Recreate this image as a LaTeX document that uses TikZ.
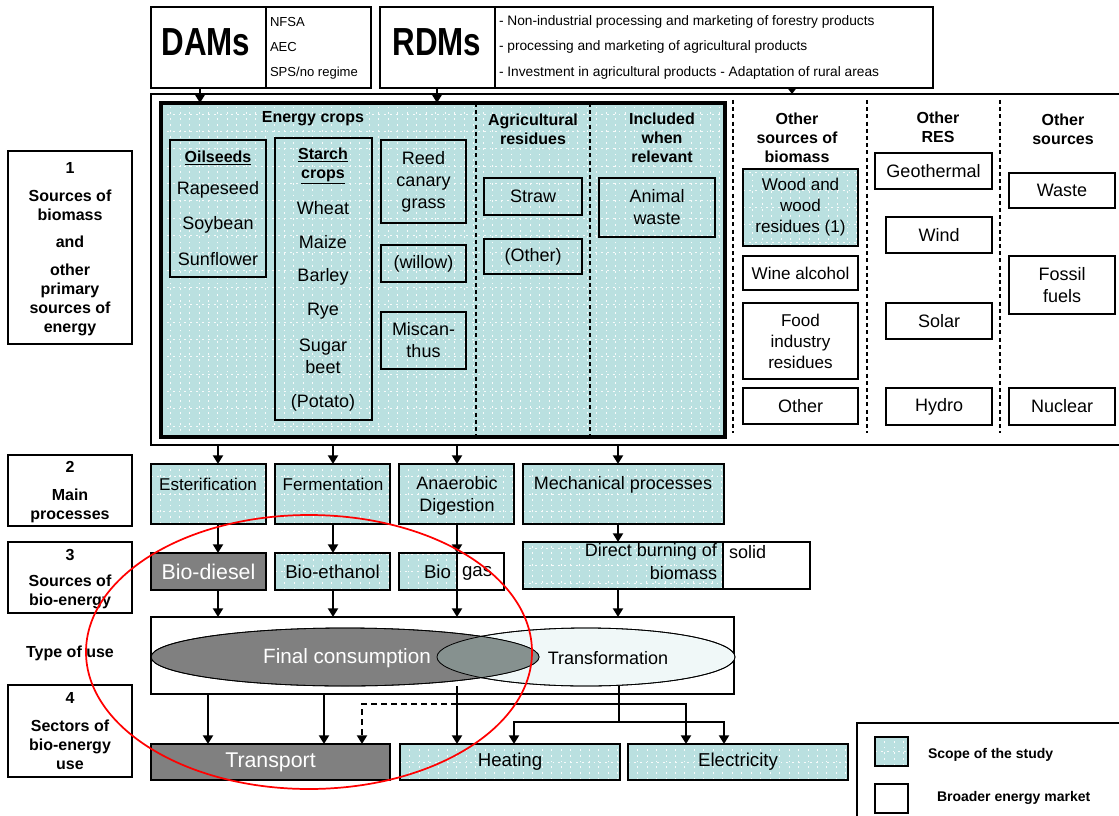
\documentclass[tikz,border=0pt]{standalone}
\usepackage{fontspec}
\setmainfont{Liberation Sans}
\usetikzlibrary{fit,shapes.geometric,arrows.meta}

\definecolor{scope}{RGB}{186,224,224}
\definecolor{darkfill}{RGB}{128,128,128}
\definecolor{transfill}{RGB}{240,248,248}
\definecolor{lensfill}{RGB}{134,145,143}
\definecolor{ring}{RGB}{255,0,0}

\tikzset{
  every node/.style={inner sep=0pt, outer sep=0pt},
  frame/.style={draw, line width=1.5pt},
  dotgrid/.style={path picture={
      \draw[white, line width=0.5pt, dash pattern=on 1.4pt off 3pt, opacity=0.9]
        (path picture bounding box.south west) grid[xstep=7.1pt, ystep=13pt]
        (path picture bounding box.north east);}},
  scopebox/.style={frame, fill=scope, dotgrid},
  plainbox/.style={frame, fill=white},
  darkbox/.style={frame, fill=darkfill},
  txt/.style={align=center, font=\fontsize{13.5}{16.5}\selectfont},
  hdr/.style={align=center, font=\bfseries\fontsize{12}{14.25}\selectfont},
  sml/.style={anchor=west, font=\fontsize{10.3}{12}\selectfont},
  big/.style={font=\bfseries\fontsize{23.5}{25}\selectfont, yscale=1.25},
  sep/.style={line width=1.2pt, dash pattern=on 3pt off 2.4pt},
  conn/.style={line width=1.5pt},
  arr/.style={conn, -{Triangle[width=7.5pt,length=6.5pt]}},
}

\begin{document}
\begin{tikzpicture}[x=0.75pt,y=-0.75pt]
\useasboundingbox (0,0) rectangle (1119,816);
\fill[white] (0,0) rectangle (1119,816);

% ---------- policy boxes ----------
\node[frame, fit={(151,7) (266,88)}] (dams) {};
\node[frame, fit={(266,7) (371,88)}] (damslist) {};
\node[frame, fit={(380,7) (495,88)}] (rdms) {};
\node[frame, fit={(495,7) (933,88)}] (rdmslist) {};
\node[big] (damst) at (206,42) {DAMs};
\node[big] (rdmst) at (437,42) {RDMs};
\node[sml, font=\fontsize{9.8}{12}\selectfont] (nfsa) at (270,22) {NFSA};
\node[sml, font=\fontsize{9.8}{12}\selectfont] (aec) at (270,47) {AEC};
\node[sml, font=\fontsize{9.8}{12}\selectfont] (sps) at (270,73) {SPS/no regime};
\node[sml] (rd1) at (499,22) {- Non-industrial processing and marketing of forestry products};
\node[sml] (rd2) at (499,47) {- processing and marketing of agricultural products};
\node[sml] (rd3) at (499,73) {- Investment in agricultural products - Adaptation of rural areas};

% ---------- primary sources ----------
\node[frame, line width=2pt, fit={(151,94) (1135,445)}] (outer) {};
\node[scopebox, line width=2.4pt, fit={(161,103) (725,437)}] (crops) {};
\draw[sep] (476,0 |- crops.north) -- (476,0 |- crops.south);
\draw[sep] (590,0 |- crops.north) -- (590,0 |- crops.south);
\draw[sep] (733,100) -- (733,433);
\draw[sep] (867,100) -- (867,433);
\draw[sep] (1000,100) -- (1000,433);

\draw[arr] (200,0 |- dams.south) -- (200,0 |- crops.north);
\draw[arr] (437,0 |- rdms.south) -- (437,0 |- crops.north);
\draw[conn, -{Triangle[width=6.5pt,length=4.5pt]}] (792,0 |- rdmslist.south) -- (792,0 |- outer.north);

\node[hdr] (hcrops) at (313,119) {Energy crops};
\node[hdr] (hagri) at (533,129) {Agricultural\\residues};
\node[hdr] (hincl) at (662,138) {Included\\when\\relevant};
\node[hdr] (hbio) at (797,138) {Other\\sources of\\biomass};
\node[hdr] (hres) at (938,127) {Other\\RES};
\node[hdr] (hoth) at (1063,129) {Other\\sources};

\node[frame, fit={(170,140) (266,277)}] (oil) {};
\node[hdr] (oilh) at (218,158) {\underline{Oilseeds}};
\node[txt] (rape) at (218,190) {Rapeseed};
\node[txt] (soy) at (218,225) {Soybean};
\node[txt] (sun) at (218,259) {Sunflower};

\node[frame, fit={(275,138) (372,420)}] (starch) {};
\node[hdr] (starchh) at (323,166) {\underline{Starch}\\\underline{crops}};
\node[txt] (wheat) at (323,208) {Wheat};
\node[txt] (maize) at (323,242) {Maize};
\node[txt] (barley) at (323,277) {Barley};
\node[txt] (rye) at (323,311) {Rye};
\node[txt] (sugar) at (323,356) {Sugar\\beet};
\node[txt] (potato) at (323,403) {(Potato)};

\node[frame, fit={(381,140) (466,223)}] (reed) {};
\node[txt] at (reed.center) {Reed\\canary\\grass};
\node[frame, fit={(381,245) (466,282)}] (willow) {};
\node[txt] at (willow.center) {(willow)};
\node[frame, fit={(381,312) (466,369)}] (misc) {};
\node[txt] at (misc.center) {Miscan-\\thus};

\node[frame, fit={(484,178) (582,215)}] (straw) {};
\node[txt] at (straw.center) {Straw};
\node[frame, fit={(484,239) (582,274)}] (othagri) {};
\node[txt] at (othagri.center) {(Other)};
\node[frame, line width=1pt, fit={(599,178) (715,237)}] (animal) {};
\node[txt] at (animal.center) {Animal\\waste};

\node[scopebox, fit={(743,169) (858,246)}] (wood) {};
\node[txt, font=\fontsize{12.8}{15.8}\selectfont] at (wood.center) {Wood and\\wood\\residues (1)};
\node[plainbox, fit={(743,256) (858,290)}] (wine) {};
\node[txt, font=\fontsize{12.8}{15.8}\selectfont] at (wine.center) {Wine alcohol};
\node[plainbox, fit={(743,303) (858,379)}] (food) {};
\node[txt, font=\fontsize{12.8}{15.8}\selectfont] at (food.center) {Food\\industry\\residues};
\node[plainbox, fit={(743,388) (858,424)}] (othbio) {};
\node[txt] at (othbio.center) {Other};

\node[plainbox, fit={(875,153) (992,189)}] (geo) {};
\node[txt] at (geo.center) {Geothermal};
\node[plainbox, fit={(886,217) (992,253)}] (wind) {};
\node[txt] at (wind.center) {Wind};
\node[plainbox, fit={(886,303) (992,339)}] (solar) {};
\node[txt] at (solar.center) {Solar};
\node[plainbox, fit={(886,388) (992,425)}] (hydro) {};
\node[txt] at (hydro.center) {Hydro};

\node[plainbox, fit={(1009,173) (1115,208)}] (waste) {};
\node[txt] at (waste.center) {Waste};
\node[plainbox, fit={(1009,256) (1115,314)}] (fossil) {};
\node[txt] at (fossil.center) {Fossil\\fuels};
\node[plainbox, fit={(1009,388) (1115,425)}] (nuclear) {};
\node[txt] at (nuclear.center) {Nuclear};

% ---------- stage labels ----------
\node[frame, fit={(8,151) (132,344)}] (st1) {};
\node[hdr] at (70,168) {1};
\node[hdr] at (70,205) {Sources of\\biomass};
\node[hdr] at (70,242) {and};
\node[hdr] at (70,300) {other\\primary\\sources of\\energy};
\node[frame, fit={(8,455) (132,526)}] (st2) {};
\node[hdr] at (70,467) {2};
\node[hdr] at (70,506) {Main\\processes};
\node[frame, fit={(8,542) (132,613)}] (st3) {};
\node[hdr] at (70,555) {3};
\node[hdr] at (70,592) {Sources of\\bio-energy};
\node[hdr] (typel) at (70,653) {Type of use};
\node[frame, fit={(8,685) (132,777)}] (st4) {};
\node[hdr] at (70,698) {4};
\node[hdr] at (70,745) {Sectors of\\bio-energy\\use};

% ---------- main processes ----------
\node[scopebox, fit={(151,464) (266,524)}] (ester) {};
\node[txt, font=\fontsize{12.8}{16}\selectfont] at (208,484) {Esterification};
\node[scopebox, fit={(275,464) (390,524)}] (ferm) {};
\node[txt, font=\fontsize{12.8}{16}\selectfont] at (333,484) {Fermentation};
\node[scopebox, fit={(399,464) (514,524)}] (anaer) {};
\node[txt] at (457,496) {Anaerobic\\Digestion};
\node[scopebox, fit={(523,464) (724,524)}] (mech) {};
\node[txt] at (623,485) {Mechanical processes};

\foreach \xx in {218,333,457,618}
  \draw[arr] (\xx,0 |- outer.south) -- (\xx,0 |- ester.north);

% ---------- sources of bio-energy ----------
\node[darkbox, fit={(151,553) (266,590)}] (diesel) {};
\node[txt, text=white, font=\fontsize{16}{18}\selectfont] at (diesel.center) {Bio-diesel};
\node[scopebox, fit={(275,553) (390,590)}] (ethanol) {};
\node[txt, font=\fontsize{14}{16}\selectfont] at (ethanol.center) {Bio-ethanol};
\node[scopebox, fit={(399,553) (457,590)}] (bio) {};
\node[plainbox, fit={(457,553) (504,590)}] (gas) {};
\node[txt, anchor=east, font=\fontsize{14}{16}\selectfont] at (451,572) {Bio};
\node[txt, anchor=west, font=\fontsize{14}{16}\selectfont] at (462,573) {gas};
\node[scopebox, fit={(523,542) (723,589)}] (direct) {};
\node[plainbox, fit={(723,542) (810,589)}] (solid) {};
\node[txt, anchor=east] at (717,552) {Direct burning of};
\node[txt, anchor=east] at (717,573) {biomass};
\node[txt, anchor=west] at (729,552) {solid};

\draw[arr] (218,0 |- ester.south) -- (218,0 |- diesel.north);
\draw[arr] (333,0 |- ferm.south) -- (333,0 |- ethanol.north);
\draw[arr] (457,0 |- anaer.south) -- (457,0 |- bio.north);
\draw[arr] (618,0 |- mech.south) -- (618,0 |- direct.north);

% ---------- type of use ----------
\node[frame, line width=1.1pt, fit={(151,617) (734,694)}] (typeuse) {};
\draw[arr] (218,0 |- diesel.south) -- (218,0 |- typeuse.north);
\draw[arr] (333,0 |- ethanol.south) -- (333,0 |- typeuse.north);
\draw[arr] (457,0 |- gas.south) -- (457,0 |- typeuse.north);
\draw[arr] (618,0 |- direct.south) -- (618,0 |- typeuse.north);

\node[ellipse, draw, line width=0.6pt, fill=transfill, minimum width=223.5pt, minimum height=43.5pt] (transf) at (586,657) {};
\node[ellipse, draw, line width=0.6pt, fill=darkfill, minimum width=291pt, minimum height=43.5pt] (finalc) at (345,657) {};
\begin{scope}
  \clip (586,657) ellipse [x radius=149, y radius=29];
  \fill[lensfill] (345,657) ellipse [x radius=194, y radius=29];
\end{scope}
\draw[line width=0.6pt] (586,657) ellipse [x radius=149, y radius=29];
\draw[line width=0.6pt] (345,657) ellipse [x radius=194, y radius=29];
\node[txt, text=white, font=\fontsize{15.5}{18}\selectfont] (fctext) at (347,658) {Final consumption};
\node[txt] (trtext) at (608,658) {Transformation};

% ---------- sectors ----------
\node[darkbox, fit={(151,744) (390,780)}] (transport) {};
\node[txt, text=white, font=\fontsize{16}{18}\selectfont] at (transport.center) {Transport};
\node[scopebox, fit={(400,744) (620,780)}] (heating) {};
\node[txt, font=\fontsize{14}{16}\selectfont] at (heating.center) {Heating};
\node[scopebox, fit={(628,744) (848,780)}] (electricity) {};
\node[txt, font=\fontsize{14}{16}\selectfont] at (electricity.center) {Electricity};

\coordinate (j1) at (457,704);
\coordinate (j2) at (619,722);
\draw[arr] (208,0 |- typeuse.south) -- (208,0 |- transport.north);
\draw[arr] (324,0 |- typeuse.south) -- (324,0 |- transport.north);
\draw[line width=0.8pt] (457,0 |- finalc.south) -- (457,0 |- typeuse.south);
\draw[arr] (457,0 |- typeuse.south) -- (457,0 |- heating.north);
\draw[conn, dash pattern=on 4.5pt off 3pt, -{Triangle[width=7.5pt,length=6.5pt]}] (j1) -| (362,0 |- transport.north);
\draw[arr] (j1) -| (686,0 |- electricity.north);
\draw[line width=0.8pt] (619,0 |- transf.south) -- (619,0 |- typeuse.south);
\draw[conn] (619,0 |- typeuse.south) -- (j2);
\draw[arr] (j2) -| (514,0 |- heating.north);
\draw[arr] (j2) -| (724,0 |- electricity.north);

% ---------- key ----------
\node[frame, fit={(857,723) (1135,830)}] (key) {};
\node[scopebox, line width=1pt, fit={(875,737) (908,766)}] (keyscope) {};
\node[plainbox, line width=1pt, fit={(875,784) (908,813)}] (keyplain) {};
\node[anchor=west, font=\bfseries\fontsize{10.5}{12}\selectfont] (keyscopet) at (928,755) {Scope of the study};
\node[anchor=west, font=\bfseries\fontsize{10.5}{12}\selectfont] (keyplaint) at (937,798) {Broader energy market};

% ---------- highlighted area ----------
\draw[ring, line width=1.3pt] (309,652) ellipse [x radius=223, y radius=137];

\end{tikzpicture}
\end{document}
